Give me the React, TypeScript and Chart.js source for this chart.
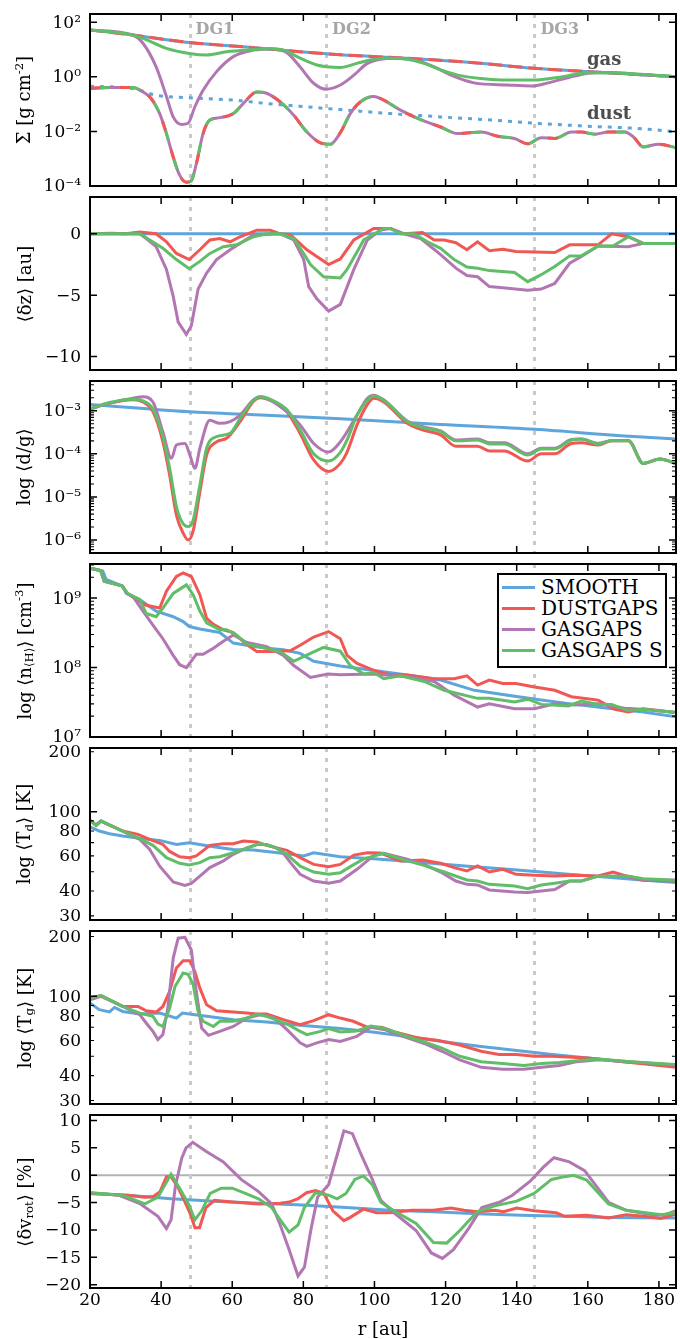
import React, { useEffect, useRef } from 'react';
import { Chart, registerables } from 'chart.js';
Chart.register(...registerables);
Chart.defaults.font.family = "'DejaVu Serif', serif";
Chart.defaults.color = '#000';

type P = [number, number][];

const R_MIN = 20;
const R_MAX = 184.8;
const R_TICKS = [20, 40, 60, 80, 100, 120, 140, 160, 180];
const DG_RADII = [48, 86.4, 145];
const DG_NAMES = ['DG1', 'DG2', 'DG3'];
const MODELS = ['SMOOTH', 'DUSTGAPS', 'GASGAPS', 'GASGAPS S'];
const COLORS = ['#5DA5DA', '#F15854', '#B276B2', '#60BD68'];

// ---------- Panel 1: surface density [g cm^-2] ----------
const sigmaGasSmooth: P = [[20,52],[32,34],[40,24.5],[48,18],[66,11.7],[79,8.3],[90.4,6.4],[109,4.8],[128,3.3],[145,2.05],[160,1.55],[175,1.2],[185,1.0]];
const sigmaGasGasgaps: P = [[20,52],[32,34],[34.9,17],[38.6,2.3],[41.5,0.19],[43.4,0.034],[45.7,0.018],[47.6,0.02],[49.5,0.08],[51.8,0.32],[55.6,1.55],[60.3,5.5],[66,9.5],[71.6,10.5],[75.4,7.6],[79.1,2.3],[82.9,0.58],[86.4,0.35],[90.4,0.5],[94.2,1.15],[98,3.1],[101.7,4.4],[105.5,4.8],[111.1,4.2],[116.8,2.3],[121.5,1.15],[128,0.6],[137.5,0.5],[144.1,0.46],[148.8,0.6],[156.3,1.07],[162,1.4],[167.6,1.4],[175.1,1.2],[185,1.0]];
const sigmaGasGasgapsS: P = [[20,52],[32,34],[34.9,25.7],[41.5,11],[47.9,7.2],[52.8,6.3],[58.4,8.3],[66,10],[69.7,10.7],[74.4,9.5],[79.1,4.8],[83.8,2.7],[86.4,2.35],[90.4,2.2],[95,3.1],[99.8,4.4],[104.5,4.8],[109.2,4.4],[113.9,3.1],[118.6,1.8],[123.4,1.15],[130,0.87],[137.5,0.76],[145,0.76],[151.6,0.95],[160,1.4],[165.7,1.42],[172.3,1.3],[185,1.0]];
const sigmaDustSmooth: P = [[20,0.45],[32.1,0.37],[38.6,0.21],[47.9,0.17],[60.3,0.14],[69.7,0.105],[79.1,0.083],[90.4,0.063],[104.5,0.045],[118.6,0.034],[132.8,0.026],[145,0.02],[160,0.0155],[175,0.0126],[185,0.0095]];
const sigmaDustGaps: P = [[20,0.37],[25.5,0.41],[32.1,0.41],[34.9,0.28],[37.2,0.16],[39.6,0.045],[41.5,0.0083],[43.4,0.00115],[45.2,0.00025],[47.1,0.000138],[48.5,0.000158],[49.9,0.00065],[51.8,0.0083],[53.7,0.026],[56.5,0.032],[60.3,0.045],[63.1,0.105],[66.9,0.28],[69.7,0.25],[73.5,0.12],[77.3,0.039],[81,0.0095],[84.8,0.0038],[87.6,0.0034],[90.4,0.009],[93.2,0.045],[96,0.12],[99.8,0.19],[102.6,0.14],[107.3,0.06],[113,0.027],[118.6,0.0145],[123.4,0.0083],[130,0.0095],[134.7,0.0066],[139.4,0.0055],[143.1,0.0035],[146.9,0.0059],[150.7,0.0055],[155.4,0.0095],[158.2,0.0095],[162,0.0079],[165.7,0.0095],[170.4,0.0095],[172.8,0.0063],[175.6,0.0027],[179.9,0.0034],[185,0.0025]];

// ---------- Panel 2: <dz> [au] ----------
const dzSmooth: P = [[20,0],[185,0]];
const dzDustgaps: P = [[20,0],[26,0.05],[30,0],[34,0.15],[38.6,0],[41.5,-0.65],[44.3,-1.6],[47.9,-2.1],[50.9,-1.3],[53.7,-0.5],[56.5,-0.38],[59.4,-0.65],[62.2,-0.24],[66.9,0.3],[70.7,0.3],[73.5,0],[76.4,-0.1],[81,-1.3],[87.1,-2.5],[90.4,-2.05],[94.2,-0.5],[99.8,0.43],[104.5,0.43],[108.3,0],[113.5,0.1],[116.8,-0.5],[119.6,-0.5],[122.9,-0.73],[126,-1.3],[129,-0.65],[132.3,-1.37],[136.1,-1.26],[139.8,-1.45],[145,-1.48],[150.7,-1.53],[154.9,-0.9],[162.9,-0.9],[166.7,0],[171.4,-0.24],[175.6,-0.78],[185,-0.78]];
const dzGasgaps: P = [[20,0],[34,0],[35.8,-0.38],[38.6,-1.05],[41.5,-2.9],[43.4,-5.1],[44.8,-7.2],[47.1,-8.2],[48.5,-7.5],[50.4,-4.5],[52.8,-3.2],[55.6,-2.1],[59.4,-1.3],[62.2,-0.78],[66,-0.1],[73.5,0],[77.3,-0.5],[80.1,-2.1],[81.5,-4.3],[83.8,-5.3],[87.1,-6.3],[90.4,-5.75],[94.2,-2.9],[98,-0.5],[101.7,0.3],[104.5,0.43],[108.3,0],[113,-0.38],[118.6,-1.7],[122.9,-2.8],[126,-3.4],[129,-3.5],[132.3,-4.3],[136.1,-4.4],[143.1,-4.6],[146.9,-4.5],[150.7,-4.05],[154.9,-2.4],[158.2,-1.85],[162.9,-1.0],[171.4,-1.05],[175.6,-0.78],[185,-0.78]];
const dzGasgapsS: P = [[20,0],[34,0],[36.8,-0.5],[40.5,-1.18],[44.3,-2.1],[47.9,-2.85],[50.9,-2.25],[53.7,-1.6],[57.5,-1.05],[61.2,-0.9],[66,-0.24],[69.7,0],[73.5,0],[77.3,-0.38],[80.1,-1.6],[82,-2.5],[85.7,-3.5],[90.4,-3.6],[92.3,-2.9],[97,-0.5],[102.6,0.43],[104.5,0.43],[107.3,0],[111.1,0],[114.9,-0.65],[118.6,-1.18],[122.4,-2.1],[126,-2.7],[129,-2.8],[132.3,-3.0],[139.4,-3.15],[143.1,-3.9],[146.9,-3.33],[150.7,-2.66],[154.9,-1.8],[158.2,-1.8],[162.9,-1.0],[167.1,-1.0],[171.4,-0.24],[175.6,-0.78],[185,-0.78]];

// ---------- Panel 3: dust-to-gas ratio ----------
const dgSmooth: P = [[20,1.4e-3],[47.9,9.5e-4],[69.7,7.9e-4],[90.4,6.5e-4],[118.6,4.8e-4],[145,3.7e-4],[170.4,2.6e-4],[185,2.2e-4]];
const dgDustgaps: P = [[20,1.1e-3],[25.5,1.5e-3],[32.1,1.8e-3],[34.9,1.6e-3],[37.7,9.5e-4],[40.5,1.9e-4],[42.4,3.2e-5],[44.3,3.8e-6],[46.2,1.45e-6],[47.6,1.0e-6],[49,1.6e-6],[50.9,1.3e-5],[52.8,9.3e-5],[55.6,1.9e-4],[58.4,2.3e-4],[62.2,5.6e-4],[66,1.66e-3],[67.8,2.0e-3],[71.6,1.6e-3],[75.4,9.5e-4],[79.1,2.95e-4],[82.9,7.2e-5],[87.1,3.9e-5],[90.4,6e-5],[92.3,1.1e-4],[95.1,4.7e-4],[97.9,1.35e-3],[99.8,1.95e-3],[102.6,1.6e-3],[109.2,5.1e-4],[113.9,3.5e-4],[118.6,2.75e-4],[122.9,1.5e-4],[129,1.5e-4],[132.3,1.17e-4],[136.5,1.17e-4],[143.1,6.8e-5],[146.9,1.0e-4],[150.7,1.0e-4],[155.4,1.74e-4],[158.2,1.8e-4],[162.9,1.6e-4],[166.7,2.0e-4],[171.4,2.0e-4],[175.6,6e-5],[180.3,7.6e-5],[185,5.8e-5]];
const dgGasgaps: P = [[20,1.1e-3],[25.5,1.5e-3],[32.1,1.95e-3],[34.9,2.1e-3],[37.7,1.6e-3],[40.5,3.2e-4],[42.9,7.9e-5],[44.3,1.6e-4],[46.7,1.74e-4],[48.1,9.3e-5],[49.5,4.6e-5],[50.9,1.35e-4],[53.7,6e-4],[56.5,5.1e-4],[59.4,5.6e-4],[62.2,7.9e-4],[66,1.8e-3],[67.8,2.1e-3],[74.4,1.1e-3],[79.1,4.7e-4],[82.9,1.74e-4],[87.1,1.1e-4],[90.4,1.9e-4],[95.1,7.9e-4],[97.9,1.9e-3],[99.8,2.3e-3],[102.6,1.8e-3],[109.2,5.8e-4],[113.9,4.2e-4],[118.6,3.4e-4],[122.9,2.1e-4],[129,2.2e-4],[132.3,1.8e-4],[136.5,1.8e-4],[143.1,1.0e-4],[146.9,1.35e-4],[150.7,1.35e-4],[155.4,2.15e-4],[158.2,2.2e-4],[162.9,1.75e-4],[166.7,2.05e-4],[171.4,2.05e-4],[175.6,6e-5],[180.3,7.6e-5],[185,5.8e-5]];
const dgGasgapsS: P = [[20,1.1e-3],[25.5,1.55e-3],[32.1,1.85e-3],[34.9,1.7e-3],[37.7,1.1e-3],[40.5,2.5e-4],[42.4,4.6e-5],[44.3,6e-6],[45.8,2.7e-6],[47.5,2.05e-6],[48.9,2.7e-6],[50.9,1.9e-5],[52.8,1.35e-4],[55.6,2.5e-4],[59.4,3e-4],[62.2,6.6e-4],[66,1.75e-3],[67.8,2.1e-3],[71.6,1.7e-3],[75.4,1.05e-3],[79.1,3.6e-4],[82.9,1.0e-4],[87.1,6.8e-5],[90.4,1.08e-4],[92.3,2.1e-4],[95.1,7.9e-4],[97.9,1.7e-3],[99.8,2.2e-3],[102.6,1.75e-3],[109.2,5.6e-4],[113.9,4e-4],[118.6,3.3e-4],[122.9,2e-4],[129,2.1e-4],[132.3,1.7e-4],[136.5,1.7e-4],[143.1,9.4e-5],[146.9,1.3e-4],[150.7,1.3e-4],[155.4,2.1e-4],[158.2,2.2e-4],[162.9,1.7e-4],[166.7,2e-4],[171.4,2e-4],[175.6,6e-5],[180.3,7.6e-5],[185,5.8e-5]];

// ---------- Panel 4: n_H [cm^-3] ----------
const nhSmooth: P = [[20,2.7e9],[23.6,2.45e9],[24.5,1.86e9],[29.2,1.48e9],[30.2,1.17e9],[34,9.5e8],[38.6,6.5e8],[43.4,5.4e8],[46.2,4.6e8],[47.9,3.9e8],[50.9,3.6e8],[56.5,3.2e8],[60.3,2.25e8],[64.1,2.1e8],[69.7,1.9e8],[74.4,1.8e8],[79.1,1.6e8],[82.9,1.23e8],[90.4,1.05e8],[99.8,9.1e7],[109.2,7.8e7],[118.6,6.6e7],[128.1,4.7e7],[137.5,4.0e7],[146.9,3.4e7],[156.3,2.95e7],[165.7,2.6e7],[175.1,2.3e7],[185,1.95e7]];
const nhDustgaps: P = [[20,2.7e9],[23,2.5e9],[24,1.75e9],[29,1.5e9],[30.5,1.17e9],[34,8.9e8],[35.8,7.9e8],[39.6,7.2e8],[41.5,1.26e9],[44.3,2.05e9],[46.2,2.3e9],[48.5,2.05e9],[50.9,1.12e9],[52.8,5.1e8],[54.7,4.2e8],[57.5,3.5e8],[60.3,3.2e8],[64.1,2.15e8],[66.9,1.7e8],[70.7,1.7e8],[76.3,1.74e8],[79.1,2.1e8],[82.9,2.75e8],[87.1,3.3e8],[90.4,2.6e8],[92.3,1.5e8],[95.1,1.15e8],[99.8,9.1e7],[104.5,7.8e7],[109.2,7.8e7],[116.8,6.9e7],[122.4,6.9e7],[126,7.6e7],[129,5.6e7],[132.3,6.6e7],[136.1,5.9e7],[139.8,5.9e7],[145,5.25e7],[150.7,4.7e7],[155.4,3.8e7],[162.9,3.4e7],[167.6,2.5e7],[171.4,2.3e7],[175.6,2.55e7],[185,2.25e7]];
const nhGasgaps: P = [[20,2.7e9],[23,2.5e9],[24,1.75e9],[29,1.5e9],[30.5,1.17e9],[32.1,1.05e9],[34.9,6.5e8],[37.7,4.1e8],[40.5,2.6e8],[43.4,1.5e8],[45.2,1.1e8],[47.1,1.0e8],[49.9,1.55e8],[51.8,1.55e8],[54.7,1.9e8],[57.5,2.4e8],[60.3,2.95e8],[64.1,2.3e8],[69.7,2.0e8],[74.4,1.5e8],[77.3,1.07e8],[82,7.2e7],[86.9,8.1e7],[90.4,7.9e7],[99.8,8.1e7],[109.2,7.4e7],[116.8,6.3e7],[122.4,4.0e7],[129,2.7e7],[132.3,3.0e7],[139.4,2.55e7],[145,2.55e7],[150.7,3.0e7],[156.3,2.9e7],[162.9,3.0e7],[170.4,2.6e7],[175.1,2.5e7],[185,2.25e7]];
const nhGasgapsS: P = [[20,2.7e9],[23,2.5e9],[24,1.75e9],[29,1.5e9],[30.5,1.17e9],[34,9.5e8],[35.8,6.0e8],[38.6,5.4e8],[40.5,7.2e8],[43.4,1.17e9],[47.1,1.55e9],[49,1.12e9],[50.9,6.5e8],[52.8,4.4e8],[56.5,3.5e8],[58.4,3.5e8],[61.2,2.95e8],[64.1,2.15e8],[69.7,1.9e8],[73.5,1.7e8],[77.3,1.23e8],[82,1.6e8],[85.7,1.95e8],[90.4,1.72e8],[93.2,1.07e8],[97,8.1e7],[99.8,8.5e7],[102.6,6.9e7],[107.3,7.6e7],[114,6.3e7],[119.6,4.7e7],[129,3.6e7],[132.3,3.6e7],[139.4,3.2e7],[143.1,3.5e7],[146.9,2.95e7],[154.5,2.8e7],[158.2,3.3e7],[162.9,2.95e7],[166.7,2.95e7],[171.4,2.4e7],[175.6,2.5e7],[185,2.25e7]];

// ---------- Panel 5: dust temperature [K] ----------
const tdSmooth: P = [[20,84],[22.6,80],[25.5,77.6],[29.2,75.5],[34,73.5],[39.6,71.8],[44.3,68.5],[47.9,69.9],[50.9,68.5],[54.7,66.7],[60.3,64.6],[66,64.3],[69.7,63.1],[76.4,61.1],[80.1,60],[82.9,62.2],[90.4,59.4],[99.8,58],[109.2,56.4],[118.6,54.6],[128,53],[137.5,51.4],[146.9,49.8],[156.3,48.3],[165.7,46.9],[175.1,45.4],[185,44.1]];
const tdDustgaps: P = [[20,90.8],[21.7,85.3],[23.1,89.8],[29.2,80],[33.5,77],[36.8,72.6],[40.5,68.5],[42.4,63.2],[45.2,59.4],[47.9,58.8],[49.9,60],[53.7,67.8],[57.5,69.1],[60.3,69.1],[63.1,71.3],[66.9,70.5],[69.7,67.8],[75.4,64],[79.1,58.8],[82.9,54.4],[87.1,53],[90.4,54.4],[94.2,60.6],[98,62.3],[101.7,62],[107.3,56.6],[113.5,57.3],[118.6,55.1],[122.4,52.4],[126,50.4],[129,53.4],[132.3,49.8],[136.1,51.4],[139.8,48.5],[145,48],[150.7,47.6],[156.3,48],[162.9,47.6],[167.1,49.8],[171.4,47.2],[175.6,45.3],[185,44.9]];
const tdGasgaps: P = [[20,89.8],[21.7,86.3],[23.1,89.8],[29.2,80],[34,72.6],[36.8,64.7],[39.6,53.3],[43.4,44.4],[46.7,42.7],[48.5,43.7],[50.9,47.5],[53.7,52.4],[57.5,56.6],[60.3,61.1],[64.1,65.9],[66.9,68.5],[69.7,68.5],[73.5,64.7],[76.4,55.5],[79.1,48.5],[82.9,44.9],[87.1,43.7],[90.4,44.9],[95.1,51.4],[99.8,60.4],[102.6,61.8],[109.2,57.7],[113.9,54.4],[118.6,49.8],[122.9,44.9],[126,43.2],[129,42.9],[132.3,40.5],[139.4,39.5],[143.1,39.3],[146.9,40],[150.7,40.7],[154.9,44.9],[158.2,44.9],[162.9,47.5],[171.4,47.5],[175.6,45.7],[185,45.3]];
const tdGasgapsS: P = [[20,90.8],[21.7,85.3],[23.1,89.8],[29.2,80],[34,73.3],[37.7,67.8],[41.5,58.8],[45.2,55.1],[47.9,54],[50.9,55.5],[53.7,58.8],[56.5,59.4],[60.3,62.2],[63.1,64.7],[67.8,69.3],[71.6,66.7],[75.4,61.1],[79.1,53.3],[82.9,49.8],[87.1,48.5],[90.4,49.4],[93.2,53],[97,58],[102.6,61.8],[107.3,58],[113.9,53.8],[119.6,49.8],[126,45.4],[129,44.9],[132.3,43.2],[139.4,42.4],[143.1,41.1],[146.9,42.9],[150.7,43.7],[154.9,44.9],[158.2,44.9],[162.9,47.5],[171.4,47.5],[175.6,46.1],[185,45.3]];

// ---------- Panel 6: gas temperature [K] ----------
const tgSmooth: P = [[20,92.6],[22.6,85.8],[25.5,83.5],[26.9,88],[29.2,84],[34,81.5],[39.6,82.5],[44.3,77.8],[46,82.5],[47.9,81.5],[52.8,79.4],[60.3,76.4],[69.7,74.3],[79.1,71.6],[90.4,68.9],[100,66],[110,62.5],[120,59],[130,56],[140,53.5],[150,51],[160,49],[170,47],[185,45]];
const tgDustgaps: P = [[20,98.2],[23.1,101],[29.2,89],[33.5,89],[35.8,84.7],[38.6,83.4],[40.5,89],[42.4,106],[44.3,139],[46.2,151],[48.1,151],[49.5,133],[50.9,110],[52.8,90.8],[55.6,84.7],[60.3,83.4],[64.1,82.4],[66.9,81.5],[69.7,81.5],[74.4,76.4],[79.1,72.1],[82.9,75.5],[87.1,80.9],[90.4,77.8],[94,75],[98,70],[102,70],[106,66],[112,62],[118,60],[124,57],[130,53],[135,51],[140,51],[145,50],[150,50],[160,49],[170,47],[185,44]];
const tgGasgaps: P = [[20,96.2],[23.1,100],[29.2,89],[34,80.9],[35.8,73.5],[37.7,66.7],[39.1,60.7],[40.5,64.3],[41.9,87.3],[43.4,155.7],[44.8,196],[46.7,198],[48.5,171],[49.9,106],[51.4,69.3],[53.3,63.7],[56.5,66.7],[60.3,70.6],[64.1,77.8],[67.8,80.9],[71.6,78.5],[75.4,68.1],[79.1,58.4],[81,56.1],[83.8,58.4],[87.1,60.7],[90.4,59.4],[95,63],[99,70],[103,68],[108,63],[114,58],[119,53],[124,48],[130,44],[136,43],[142,43],[147,44],[152,45],[157,47],[163,48],[172,47],[185,45]];
const tgGasgapsS: P = [[20,98.2],[23.1,101],[29.2,89],[34,82.4],[37.7,79.4],[39.1,72.6],[40.5,70.6],[42.4,87.3],[43.9,112],[46.2,131],[47.6,129],[49,115],[50.4,84],[51.8,75],[54.7,70.6],[56.5,75],[60.3,75],[64.1,77.8],[66.9,81.5],[69.7,79.4],[75.4,72.6],[79.1,66.7],[81,64.2],[84.8,66.7],[87.1,68.9],[90.4,66.2],[95,67],[99,71],[103,69],[108,64],[114,59],[119,55],[124,50],[130,47],[136,46],[142,45],[147,46],[152,46.5],[157,47.5],[163,48.5],[172,47],[185,45.5]];

// ---------- Panel 7: rotation velocity deviation [%] ----------
const dvSmooth: P = [[20,-3.33],[30.5,-3.65],[42.8,-4.3],[55,-4.74],[67.4,-5.13],[79.7,-5.45],[92,-5.9],[104.3,-6.4],[116.6,-6.67],[128.9,-7.05],[141.2,-7.3],[153.5,-7.5],[165.8,-7.7],[185,-7.82]];
const dvDustgaps: P = [[20,-3.33],[30.5,-3.65],[35.4,-4.0],[37.8,-3.9],[39.7,-3.0],[41.5,-0.26],[42.8,-0.26],[44.6,-2.05],[46.5,-4.6],[48.3,-7.2],[49.5,-9.6],[50.8,-9.6],[52.6,-5.9],[55,-4.6],[60,-4.9],[67.4,-5.25],[73.5,-5.13],[76,-4.9],[78.5,-4.3],[80.9,-3.2],[83.4,-2.8],[85.8,-3.33],[88.3,-6.5],[91.4,-8.3],[93.2,-7.7],[96.9,-6.2],[100.6,-6.86],[104.3,-6.86],[110.5,-6.4],[116.6,-6.4],[121.5,-6.0],[125.2,-6.4],[128.9,-6.67],[133.8,-6.4],[136.3,-6.67],[140,-6.0],[144.9,-6.5],[151.1,-6.86],[153.5,-7.5],[159.7,-7.3],[165.8,-7.8],[170.8,-7.2],[175.7,-7.5],[180.6,-7.9],[185,-7.05]];
const dvGasgaps: P = [[20,-3.2],[28,-3.65],[34.2,-5.25],[39.1,-7.5],[41.5,-9.74],[42.8,-8.14],[44,-2.05],[45.8,3.1],[47,5.0],[48.9,6.0],[52.6,4.36],[57.5,2.44],[62.5,-0.77],[67.4,-3.0],[71.1,-5.25],[73.5,-9.1],[76,-13.6],[78.5,-18.4],[80.3,-16.8],[82.2,-9.7],[84,-4.0],[87.1,-1.73],[89.5,3.7],[91.4,8.1],[93.8,7.6],[96.3,3.7],[99.4,-0.77],[101.8,-4.6],[105.5,-6.86],[111.7,-10.1],[116,-14.2],[119.1,-15.2],[122.2,-13.6],[126.5,-9.7],[130.2,-5.9],[135.1,-4.94],[138.8,-3.65],[143.8,-1.1],[147.5,1.47],[150.5,3.2],[154.8,2.44],[159.1,0.83],[165.8,-4.94],[170.8,-6.4],[178.1,-7.2],[181.8,-7.2],[185,-6.4]];
const dvGasgapsS: P = [[20,-3.2],[29.2,-3.65],[32.9,-4.6],[35.4,-5.25],[39.1,-4.0],[42.8,0.2],[45.2,-2.37],[47.7,-5.25],[49.5,-8.14],[51.4,-6.5],[53.8,-3.33],[56.9,-2.37],[60,-2.37],[63.7,-3.33],[67.4,-4.3],[71.1,-5.9],[73.5,-8.14],[76,-10.4],[78.5,-9.1],[80.3,-5.9],[83.4,-3.2],[87.1,-3.65],[89.5,-4.3],[92,-3.33],[94.5,-0.77],[96.9,-0.13],[99.4,-1.73],[101.8,-4.94],[105.5,-6.5],[111.7,-8.8],[116.6,-12.3],[120.3,-12.4],[124,-10.1],[128.9,-6.67],[133.8,-5.6],[140,-4.74],[144.9,-3.33],[149.8,-0.77],[153.5,-0.26],[156,0],[159.7,-0.9],[165.8,-5.25],[170.8,-6.4],[180.6,-7.2],[185,-6.86]];

// ---------- helpers ----------
const SUP: Record<string, string> = { '-': '\u207B', '0': '\u2070', '1': '\u00B9', '2': '\u00B2', '3': '\u00B3', '4': '\u2074', '5': '\u2075', '6': '\u2076', '7': '\u2077', '8': '\u2078', '9': '\u2079' };
const logLabel = (v: number) => '10' + String(Math.round(Math.log10(v))).split('').map((c) => SUP[c]).join('');
const numLabel = (v: number) => (v < 0 ? '\u2212' + Math.abs(v) : String(v));
const plainLabel = (v: number) => String(Math.round(v));
const logMinors = (lo: number, hi: number) => {
  const out: number[] = [];
  for (let d = Math.floor(Math.log10(lo)); d <= Math.ceil(Math.log10(hi)); d++) {
    for (let k = 2; k <= 9; k++) {
      const v = k * Math.pow(10, d);
      if (v >= lo && v <= hi) out.push(v);
    }
  }
  return out;
};
const pts = (a: P) => a.map(([x, y]) => ({ x, y }));

const line = (data: P, color: string, order: number, extra: any = {}) => ({
  data: pts(data), borderColor: color, borderWidth: 3, pointRadius: 0, fill: false, order, ...extra,
});

const PAD = 12;
const FONT = "17px 'DejaVu Serif', serif";
const PAGE_H = 1339;

type Panel = {
  top: number; h: number; type: 'linear' | 'logarithmic'; min: number; max: number;
  labels: number[]; major: number[]; minor: number[]; fmt: (v: number) => string;
  tension: number; zero?: boolean; last?: boolean; datasets: any[];
};

const panels: Panel[] = [
  {
    top: 14, h: 172, type: 'logarithmic', min: 1e-4, max: 2e2,
    labels: [1e-4, 1e-2, 1, 1e2], major: [1e-4, 1e-2, 1, 1e2], minor: [], fmt: logLabel, tension: 0.4,
    datasets: [
      line(sigmaGasSmooth, COLORS[0], 9),
      line(sigmaDustSmooth, COLORS[0], 8, { borderDash: [4, 6] }),
      line(sigmaGasSmooth, COLORS[1], 7, { borderDash: [14, 6] }),
      line(sigmaGasGasgaps, COLORS[2], 5),
      line(sigmaDustGaps, COLORS[2], 6),
      line(sigmaDustGaps, COLORS[1], 4, { borderDash: [10, 20] }),
      line(sigmaGasGasgapsS, COLORS[3], 2),
      line(sigmaDustGaps, COLORS[3], 3, { borderDash: [10, 20], borderDashOffset: 20 }),
    ],
  },
  {
    top: 197, h: 173, type: 'linear', min: -11.1, max: 3,
    labels: [-10, -5, 0], major: [-10, -5, 0], minor: [], fmt: numLabel, tension: 0,
    datasets: [line(dzSmooth, COLORS[0], 3), line(dzDustgaps, COLORS[1], 2), line(dzGasgaps, COLORS[2], 1), line(dzGasgapsS, COLORS[3], 0)],
  },
  {
    top: 381, h: 172, type: 'logarithmic', min: 5e-7, max: 4.9e-3,
    labels: [1e-6, 1e-5, 1e-4, 1e-3], major: [1e-6, 1e-5, 1e-4, 1e-3], minor: logMinors(5e-7, 4.9e-3), fmt: logLabel, tension: 0.35,
    datasets: [line(dgSmooth, COLORS[0], 3), line(dgDustgaps, COLORS[1], 2), line(dgGasgaps, COLORS[2], 1), line(dgGasgapsS, COLORS[3], 0)],
  },
  {
    top: 564, h: 173, type: 'logarithmic', min: 1e7, max: 3.1e9,
    labels: [1e7, 1e8, 1e9], major: [1e7, 1e8, 1e9], minor: logMinors(1e7, 3.1e9), fmt: logLabel, tension: 0,
    datasets: [line(nhSmooth, COLORS[0], 3), line(nhDustgaps, COLORS[1], 2), line(nhGasgaps, COLORS[2], 1), line(nhGasgapsS, COLORS[3], 0)],
  },
  {
    top: 748, h: 172, type: 'logarithmic', min: 28.6, max: 209,
    labels: [30, 40, 60, 80, 100, 200], major: [100], minor: [30, 40, 50, 60, 70, 80, 90, 200], fmt: plainLabel, tension: 0,
    datasets: [line(tdSmooth, COLORS[0], 3), line(tdDustgaps, COLORS[1], 2), line(tdGasgaps, COLORS[2], 1), line(tdGasgapsS, COLORS[3], 0)],
  },
  {
    top: 931, h: 173, type: 'logarithmic', min: 28.8, max: 213,
    labels: [30, 40, 60, 80, 100, 200], major: [100], minor: [30, 40, 50, 60, 70, 80, 90, 200], fmt: plainLabel, tension: 0,
    datasets: [line(tgSmooth, COLORS[0], 3), line(tgDustgaps, COLORS[1], 2), line(tgGasgaps, COLORS[2], 1), line(tgGasgapsS, COLORS[3], 0)],
  },
  {
    top: 1115, h: 173, type: 'linear', min: -20.6, max: 11,
    labels: [-20, -15, -10, -5, 0, 5, 10], major: [-20, -15, -10, -5, 0, 5, 10], minor: [], fmt: numLabel, tension: 0, zero: true, last: true,
    datasets: [line(dvSmooth, COLORS[0], 3), line(dvDustgaps, COLORS[1], 2), line(dvGasgaps, COLORS[2], 1), line(dvGasgapsS, COLORS[3], 0)],
  },
];

// Frame, inward ticks, tick labels, DG guide lines: drawn from the chart's own scales.
const makeFramePlugin = (p: Panel) => ({
  id: 'frame',
  beforeDatasetsDraw(chart: any) {
    const { ctx, chartArea: a, scales } = chart;
    ctx.save();
    ctx.beginPath();
    ctx.rect(a.left, a.top, a.right - a.left, a.bottom - a.top);
    ctx.clip();
    if (p.zero) {
      const y = scales.y.getPixelForValue(0);
      ctx.strokeStyle = '#b3b3b3';
      ctx.lineWidth = 2;
      ctx.beginPath(); ctx.moveTo(a.left, y); ctx.lineTo(a.right, y); ctx.stroke();
    }
    ctx.strokeStyle = '#c9c9c9';
    ctx.lineWidth = 3;
    ctx.setLineDash([4, 6]);
    for (const d of DG_RADII) {
      const x = Math.round(scales.x.getPixelForValue(d)) + 0.5;
      ctx.beginPath(); ctx.moveTo(x, a.top); ctx.lineTo(x, a.bottom); ctx.stroke();
    }
    ctx.restore();
  },
  afterDraw(chart: any) {
    const { ctx, chartArea: a, scales } = chart;
    ctx.save();
    ctx.strokeStyle = '#000';
    ctx.fillStyle = '#000';
    ctx.lineWidth = 1.5;
    const MAJ = 7, MIN = 4;
    ctx.font = FONT;
    for (const r of R_TICKS) {
      const x = scales.x.getPixelForValue(r);
      if (p.last) {
        ctx.textAlign = 'center';
        ctx.textBaseline = 'middle';
        ctx.fillText(String(r), x, a.bottom + 13);
      }
      if (x <= a.left + 1 || x >= a.right - 1) continue;
      ctx.beginPath();
      ctx.moveTo(x, a.top); ctx.lineTo(x, a.top + MAJ);
      ctx.moveTo(x, a.bottom); ctx.lineTo(x, a.bottom - MAJ);
      ctx.stroke();
    }
    ctx.textAlign = 'right';
    ctx.textBaseline = 'middle';
    for (const v of p.labels) {
      const y = scales.y.getPixelForValue(v);
      ctx.fillText(p.fmt(v), a.left - 9, y + 1);
    }
    const yt = (vals: number[], len: number, w: number) => {
      ctx.lineWidth = w;
      for (const v of vals) {
        const y = scales.y.getPixelForValue(v);
        if (y < a.top - 0.5 || y > a.bottom + 0.5) continue;
        ctx.beginPath();
        ctx.moveTo(a.left, y); ctx.lineTo(a.left + len, y);
        ctx.moveTo(a.right, y); ctx.lineTo(a.right - len, y);
        ctx.stroke();
      }
    };
    yt(p.major, MAJ, 1.5);
    yt(p.minor, MIN, 1.1);
    ctx.lineWidth = 2;
    ctx.strokeRect(a.left, a.top, a.right - a.left, a.bottom - a.top);
    ctx.restore();
  },
});

function PanelChart({ p }: { p: Panel }) {
  const ref = useRef<HTMLCanvasElement>(null);
  const canvasTop = p.top - PAD;
  const canvasH = p.last ? PAGE_H - canvasTop : p.h + 2 * PAD;
  useEffect(() => {
    if (!ref.current) return;
    const chart = new Chart(ref.current, {
      type: 'line',
      data: { datasets: p.datasets.map((d) => ({ ...d, tension: p.tension, cubicInterpolationMode: p.tension > 0 ? 'monotone' : 'default' })) },
      plugins: [makeFramePlugin(p) as any],
      options: {
        responsive: false,
        animation: false,
        devicePixelRatio: 1,
        events: [],
        layout: { padding: { left: 90, right: 4, top: PAD, bottom: p.last ? PAGE_H - (p.top + p.h) : PAD } },
        plugins: { legend: { display: false }, tooltip: { enabled: false } },
        scales: {
          x: { type: 'linear', min: R_MIN, max: R_MAX, display: false },
          y: { type: p.type, min: p.min, max: p.max, display: false },
        } as any,
      },
    });
    return () => chart.destroy();
  }, []);
  return (
    <canvas ref={ref} width={680} height={canvasH}
      style={{ position: 'absolute', left: 0, top: canvasTop, width: 680, height: canvasH }} />
  );
}

const TITLES: React.ReactNode[] = [
  <>Σ [g cm<sup>-2</sup>]</>,
  <>⟨δz⟩ [au]</>,
  <>log ⟨d/g⟩</>,
  <>log ⟨n<sub>⟨H⟩</sub>⟩ [cm<sup>-3</sup>]</>,
  <>log ⟨T<sub>d</sub>⟩ [K]</>,
  <>log ⟨T<sub>g</sub>⟩ [K]</>,
  <>⟨δv<sub>rot</sub>⟩ [%]</>,
];

const supStyle = `
  .ttl sup { font-size: 0.65em; vertical-align: 0.6em; line-height: 0; }
  .ttl sub { font-size: 0.65em; vertical-align: -0.25em; line-height: 0; }
`;

export default function App() {
  const xPix = (r: number) => 90 + ((r - R_MIN) / (R_MAX - R_MIN)) * (676 - 90);
  return (
    <div style={{ position: 'absolute', left: 0, top: 0, width: 680, height: PAGE_H, background: '#fff', overflow: 'hidden', fontFamily: "'DejaVu Serif', serif", color: '#000' }}>
      <style>{supStyle}</style>
      {panels.map((p, i) => <PanelChart key={i} p={p} />)}
      {panels.map((p, i) => (
        <div key={'t' + i} className="ttl" style={{
          position: 'absolute', left: 24 - p.h / 2, top: p.top + p.h / 2 - 13, width: p.h, height: 26,
          lineHeight: '26px', textAlign: 'center', fontSize: 18, whiteSpace: 'nowrap', transform: 'rotate(-90deg)',
        }}>{TITLES[i]}</div>
      ))}
      {DG_NAMES.map((n, i) => (
        <div key={n} style={{ position: 'absolute', left: xPix(DG_RADII[i]) + 6, top: 21, fontSize: 16, lineHeight: '16px', fontWeight: 'bold', color: '#a6a6a6' }}>{n}</div>
      ))}
      <div style={{ position: 'absolute', left: 587, top: 50, fontSize: 18, lineHeight: '18px', fontWeight: 'bold', color: '#4d4d4d' }}>gas</div>
      <div style={{ position: 'absolute', left: 587, top: 104, fontSize: 18, lineHeight: '18px', fontWeight: 'bold', color: '#4d4d4d' }}>dust</div>
      <div style={{ position: 'absolute', left: 497, top: 573, width: 170, height: 95, border: '2px solid #000', background: '#fff', boxSizing: 'border-box' }}>
        {MODELS.map((m, i) => (
          <div key={m} style={{ position: 'absolute', left: 3, top: 1.5 + i * 21.3, height: 21, display: 'flex', alignItems: 'center', whiteSpace: 'nowrap' }}>
            <span style={{ display: 'inline-block', width: 33, height: 3, background: COLORS[i], marginRight: 6 }} />
            <span style={{ fontSize: 20, lineHeight: '21px' }}>{m}</span>
          </div>
        ))}
      </div>
      <div style={{ position: 'absolute', left: 90, width: 586, top: 1318, textAlign: 'center', fontSize: 18, lineHeight: '22px' }}>r [au]</div>
    </div>
  );
}
